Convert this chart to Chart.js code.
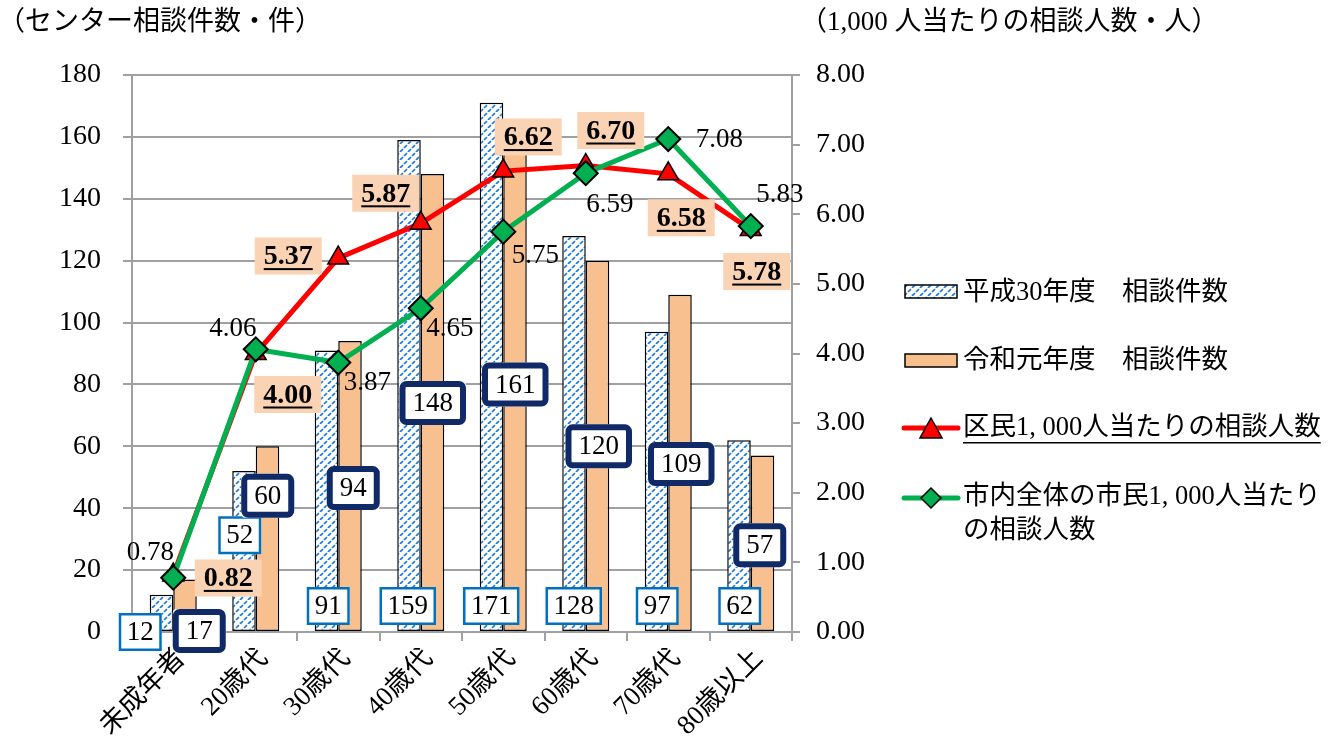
<!DOCTYPE html>
<html lang="ja">
<head>
  <meta charset="UTF-8" />
  <title>年代別相談件数</title>
  <style>
    body { margin: 0; background: #fff; }
    #wrap { width: 1337px; height: 740px; position: relative; }
  </style>
  <script src="https://cdn.jsdelivr.net/npm/chart.js"></script>
</head>
<body>
  <div id="wrap"><canvas id="chart"></canvas></div>
  <script>
    /* ---------- データ ---------- */
    const categories = ['未成年者', '20歳代', '30歳代', '40歳代', '50歳代', '60歳代', '70歳代', '80歳以上'];
    const countH30 = [12, 52, 91, 159, 171, 128, 97, 62];        // 平成30年度 相談件数
    const countR1 = [17, 60, 94, 148, 161, 120, 109, 57];         // 令和元年度 相談件数
    const ratePerWard = [0.82, 4.00, 5.37, 5.87, 6.62, 6.70, 6.58, 5.78]; // 区民1,000人当たり
    const ratePerCity = [0.78, 4.06, 3.87, 4.65, 5.75, 6.59, 7.08, 5.83]; // 市内全体
    const leftTicks = [0, 20, 40, 60, 80, 100, 120, 140, 160, 180];
    const rightTicks = [0, 1, 2, 3, 4, 5, 6, 7, 8];

    /* ---------- ラベル配置（ピクセル/軸値） ---------- */
    const h30LabelDx = [-33, -16, -10, -13, -12, -12, -11, -11];
    const h30LabelAt = [0, 31.3, 8.4, 8.4, 8.4, 8.4, 8.4, 8.4];
    const r1LabelDx = [26, 12, 15, 12, 12, 13, 13, 9];
    const r1LabelAt = [0.3, 44, 46.5, 74, 80, 60, 54.3, 28];
    const wardLabelOff = [[55, 3], [32, 41], [-50, -2], [-35, -30], [25, -34], [25, -35], [13, 44], [6, 42]];
    const cityLabelOff = [[-23, -25], [-23, -20], [29, 20], [29, 21], [32, 24], [24, 32], [51, 1], [29, -31]];

    const SERIF = "'Liberation Serif', 'Noto Sans CJK JP', serif";
    const GRID = '#a0a0a0';
    const ORANGE = '#f8c08f';
    const PEACH = '#fad3b5';
    const NAVY = '#0f2a66';
    const BLUE = '#0070c0';

    const canvas = document.getElementById('chart');

    // 斜線（破線）パターン
    function makeHatch() {
      const t = document.createElement('canvas');
      t.width = 8; t.height = 8;
      const g = t.getContext('2d');
      g.fillStyle = '#fff';
      g.fillRect(0, 0, 8, 8);
      g.strokeStyle = '#1f7bd6';
      g.lineWidth = 1.7;
      g.setLineDash([4.2, 1.46]);
      for (const o of [-8, 0, 8]) {
        g.beginPath();
        g.moveTo(o, 8);
        g.lineTo(o + 8, 0);
        g.stroke();
      }
      return canvas.getContext('2d').createPattern(t, 'repeat');
    }
    const hatch = makeHatch();

    function boxLabel(ctx, text, cx, cy, style) {
      ctx.font = (style.bold ? 'bold ' : '') + style.size + 'px ' + SERIF;
      const w = ctx.measureText(text).width;
      const bw = w + style.padX * 2, bh = style.h;
      const x0 = cx - bw / 2, y0 = cy - bh / 2;
      if (style.fill) {
        ctx.fillStyle = style.fill;
        ctx.beginPath();
        ctx.roundRect(x0, y0, bw, bh, style.radius || 0);
        ctx.fill();
      }
      if (style.stroke) {
        const lw = style.lineWidth;
        ctx.strokeStyle = style.stroke;
        ctx.lineWidth = lw;
        ctx.beginPath();
        ctx.roundRect(x0 + lw / 2, y0 + lw / 2, bw - lw, bh - lw, style.radius || 0);
        ctx.stroke();
      }
      ctx.fillStyle = '#000';
      ctx.textAlign = 'center';
      ctx.textBaseline = 'middle';
      ctx.fillText(text, cx, cy + 1);
      if (style.underline) {
        ctx.fillRect(cx - w / 2, cy + 12, w, 2);
      }
    }

    const valueLabels = {
      id: 'valueLabels',
      afterDatasetsDraw(chart) {
        const { ctx, scales: { x, y, y1 } } = chart;
        ctx.save();
        countH30.forEach((v, i) => {
          boxLabel(ctx, String(v), x.getPixelForValue(i) + h30LabelDx[i], y.getPixelForValue(h30LabelAt[i]),
            { fill: '#fff', stroke: BLUE, lineWidth: 2.5, padX: 8, h: 38, size: 27 });
        });
        countR1.forEach((v, i) => {
          boxLabel(ctx, String(v), x.getPixelForValue(i) + r1LabelDx[i], y.getPixelForValue(r1LabelAt[i]),
            { fill: '#fff', stroke: NAVY, lineWidth: 6, padX: 13, h: 44, radius: 4, size: 27 });
        });
        ratePerWard.forEach((v, i) => {
          boxLabel(ctx, v.toFixed(2), x.getPixelForValue(i) + wardLabelOff[i][0], y1.getPixelForValue(v) + wardLabelOff[i][1],
            { fill: PEACH, padX: 9, h: 37, bold: true, underline: true, size: 28 });
        });
        ctx.font = '27px ' + SERIF;
        ctx.fillStyle = '#000';
        ctx.textAlign = 'center';
        ctx.textBaseline = 'middle';
        ratePerCity.forEach((v, i) => {
          ctx.fillText(v.toFixed(2), x.getPixelForValue(i) + cityLabelOff[i][0], y1.getPixelForValue(v) + cityLabelOff[i][1]);
        });
        ctx.restore();
      }
    };

    // 軸タイトルと凡例
    const sideText = {
      id: 'sideText',
      afterDraw(chart) {
        const ctx = chart.ctx;
        ctx.save();
        ctx.fillStyle = '#000';
        ctx.textBaseline = 'middle';
        ctx.textAlign = 'left';
        ctx.font = '27px ' + SERIF;
        ctx.fillText('（センター相談件数・件）', -2, 23);
        ctx.fillText('（1,000 人当たりの相談人数・人）', 800, 23);

        ctx.font = '26.5px ' + SERIF;
        // 平成30年度
        ctx.fillStyle = hatch;
        ctx.fillRect(905, 285, 52, 13);
        ctx.strokeStyle = '#000';
        ctx.lineWidth = 1.5;
        ctx.strokeRect(905, 285, 52, 13);
        ctx.fillStyle = '#000';
        ctx.fillText('平成30年度　相談件数', 963, 293);
        // 令和元年度
        ctx.fillStyle = ORANGE;
        ctx.fillRect(905, 354, 52, 13);
        ctx.strokeRect(905, 354, 52, 13);
        ctx.fillStyle = '#000';
        ctx.fillText('令和元年度　相談件数', 963, 361);
        // 区民
        ctx.strokeStyle = '#ff0000';
        ctx.lineWidth = 5;
        ctx.lineCap = 'round';
        ctx.beginPath(); ctx.moveTo(904, 428); ctx.lineTo(958, 428); ctx.stroke();
        ctx.fillStyle = '#ff0000';
        ctx.strokeStyle = '#000';
        ctx.lineWidth = 1.5;
        ctx.beginPath();
        ctx.moveTo(931, 418); ctx.lineTo(942, 438); ctx.lineTo(920, 438); ctx.closePath();
        ctx.fill(); ctx.stroke();
        ctx.fillStyle = '#000';
        const wardText = '区民1, 000人当たりの相談人数';
        ctx.fillText(wardText, 963, 428);
        ctx.fillRect(963, 442, ctx.measureText(wardText).width, 1.5);
        // 市内全体
        ctx.strokeStyle = '#00b050';
        ctx.lineWidth = 5;
        ctx.beginPath(); ctx.moveTo(904, 498); ctx.lineTo(958, 498); ctx.stroke();
        ctx.fillStyle = '#00b050';
        ctx.strokeStyle = '#000';
        ctx.lineWidth = 1.5;
        ctx.beginPath();
        ctx.moveTo(931, 488); ctx.lineTo(941, 498); ctx.lineTo(931, 508); ctx.lineTo(921, 498); ctx.closePath();
        ctx.fill(); ctx.stroke();
        ctx.fillStyle = '#000';
        ctx.fillText('市内全体の市民1, 000人当たり', 963, 497);
        ctx.fillText('の相談人数', 963, 531);
        ctx.restore();
      }
    };

    const tickFont = { family: SERIF, size: 28 };

    new Chart(canvas, {
      data: {
        labels: categories,
        datasets: [
          {
            type: 'line', label: '市内全体の市民1,000人当たりの相談人数', data: ratePerCity, yAxisID: 'y1', order: 1,
            borderColor: '#00b050', borderWidth: 5, tension: 0,
            pointStyle: 'rectRot', pointRadius: 12, pointBackgroundColor: '#00b050',
            pointBorderColor: '#000', pointBorderWidth: 2
          },
          {
            type: 'line', label: '区民1,000人当たりの相談人数', data: ratePerWard, yAxisID: 'y1', order: 2,
            borderColor: '#ff0000', borderWidth: 5, tension: 0,
            pointStyle: 'triangle', pointRadius: 12, pointBackgroundColor: '#ff0000',
            pointBorderColor: '#000', pointBorderWidth: 1.5
          },
          {
            type: 'bar', label: '平成30年度　相談件数', data: countH30, yAxisID: 'y', order: 3,
            backgroundColor: hatch, borderColor: '#000', borderWidth: 1.5, borderSkipped: false,
            categoryPercentage: 0.57, barPercentage: 1.0
          },
          {
            type: 'bar', label: '令和元年度　相談件数', data: countR1, yAxisID: 'y', order: 4,
            backgroundColor: ORANGE, borderColor: '#000', borderWidth: 1.5, borderSkipped: false,
            categoryPercentage: 0.57, barPercentage: 1.0
          }
        ]
      },
      options: {
        responsive: true,
        maintainAspectRatio: false,
        animation: false,
        layout: { padding: { left: 0, top: 75, right: 1337 - 792 - 90, bottom: 0 } },
        plugins: { legend: { display: false }, tooltip: { enabled: false } },
        scales: {
          x: {
            offset: true,
            grid: { offset: true, drawOnChartArea: false, tickLength: 9, color: GRID, lineWidth: 2 },
            border: { color: GRID, width: 2 },
            ticks: { font: { family: SERIF, size: 27 }, color: '#000', minRotation: 45, maxRotation: 45, padding: 2, labelOffset: 8 },
            afterFit(s) { s.height = 108; }
          },
          y: {
            position: 'left', min: 0, max: 180,
            afterBuildTicks(s) { s.ticks = leftTicks.map(v => ({ value: v })); },
            grid: { color: GRID, lineWidth: 2, tickLength: 9 },
            border: { color: GRID, width: 2 },
            ticks: { font: tickFont, color: '#000', padding: 22 },
            afterFit(s) { s.width = 132; }
          },
          y1: {
            position: 'right', min: 0, max: 8,
            afterBuildTicks(s) { s.ticks = rightTicks.map(v => ({ value: v })); },
            grid: { drawOnChartArea: false, color: GRID, lineWidth: 2, tickLength: 8 },
            border: { color: GRID, width: 2 },
            ticks: { font: tickFont, color: '#000', padding: 16, callback: v => v.toFixed(2) },
            afterFit(s) { s.width = 90; }
          }
        }
      },
      plugins: [valueLabels, sideText]
    });
  </script>
</body>
</html>
